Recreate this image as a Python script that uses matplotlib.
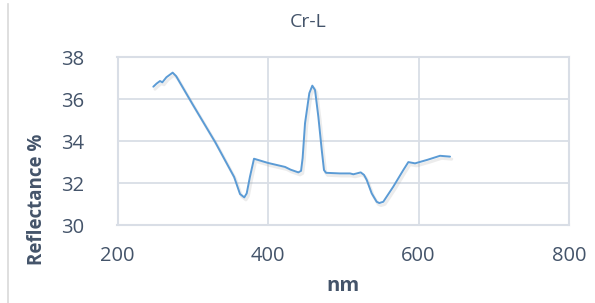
import matplotlib
matplotlib.use("Agg")
import matplotlib.pyplot as plt
import matplotlib.patheffects as pe
from matplotlib.lines import Line2D

wavelength_nm = [247.6, 252, 256.5, 259.6, 265, 273.3, 278, 300, 330, 355, 362.8, 368.5,
                 371.7, 376, 381.4, 400, 422.6, 430, 440.3, 443.9, 446, 449.2, 454.9, 458.9,
                 462.5, 466.9, 471.4, 474.4, 477.1, 495.7, 509, 513.4, 518, 523.2, 527.6,
                 531.2, 537.8, 544.4, 547.9, 553.2, 566.5, 579.8, 586.5, 595.4, 612, 628.6, 641.9]
reflectance = [36.6, 36.75, 36.87, 36.81, 37.05, 37.27, 37.1, 35.75, 33.95, 32.3, 31.49, 31.33,
               31.52, 32.31, 33.17, 32.97, 32.78, 32.65, 32.52, 32.59, 33.2, 34.86, 36.29, 36.65,
               36.44, 35.17, 33.59, 32.63, 32.5, 32.47, 32.47, 32.43, 32.47, 32.52, 32.4,
               32.16, 31.52, 31.12, 31.06, 31.12, 31.84, 32.63, 33.01, 32.95, 33.12, 33.31, 33.27]

x_ticks = [200, 400, 600, 800]
y_ticks = [30, 32, 34, 36, 38]

text_color = "#44546A"
grid_color = "#D9DEE6"
line_color = "#5B9BD5"

W, H = 595, 303
fig = plt.figure(figsize=(W / 100, H / 100), dpi=100)
ax = fig.add_axes([117.5 / W, 1 - 225.3 / H, (569 - 117.5) / W, (225.3 - 57.3) / H])

ax.plot(wavelength_nm, reflectance, color=line_color, lw=1.4,
        solid_joinstyle="round", solid_capstyle="round",
        path_effects=[pe.SimpleLineShadow(offset=(1.2, -1.8), shadow_color="#999999", alpha=0.18, linewidth=2.2),
                      pe.Normal()])

ax.set_xlim(200, 800)
ax.set_ylim(30, 38)
ax.set_xticks(x_ticks)
ax.set_yticks(y_ticks)
ax.grid(True, color=grid_color, lw=1.3)
ax.set_axisbelow(True)
for s in ax.spines.values():
    s.set_color(grid_color)
    s.set_linewidth(1.5)
ax.tick_params(length=0, labelsize=14.5, labelcolor=text_color)
ax.tick_params(axis="x", pad=15)
ax.tick_params(axis="y", pad=24)
for lab in ax.get_xticklabels() + ax.get_yticklabels():
    lab.set_fontfamily("Open Sans")

fig.text(308 / W, 1 - 22 / H, "Cr-L", fontsize=14, color=text_color, family="Open Sans",
         ha="center", va="center")
fig.text(343 / W, 1 - 286 / H, "nm", fontsize=14.5, fontweight="bold", color=text_color,
         family="Open Sans", ha="center", va="center")
fig.text(37.5 / W, 1 - 199 / H, "Reflectance %", fontsize=13.5, fontweight="bold", color=text_color,
         family="Open Sans", ha="center", va="center", rotation=90)

fig.add_artist(Line2D([8 / W, 8 / W], [0.0, 1 - 4 / H], transform=fig.transFigure,
                      color="#D9D9D9", lw=1.2))

fig.savefig("out.png", dpi=100)
